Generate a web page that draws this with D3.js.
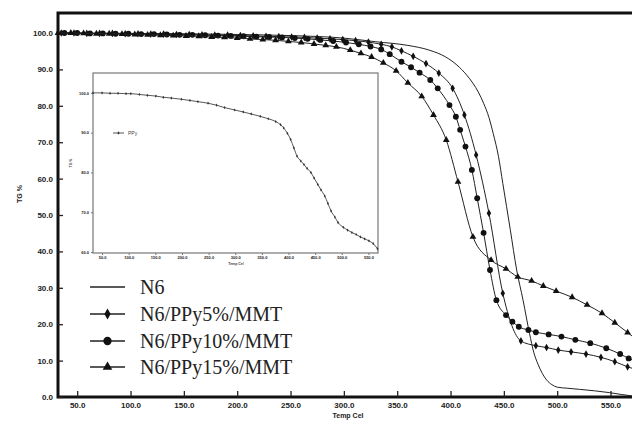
<!DOCTYPE html>
<html>
<head>
<meta charset="utf-8">
<script src="https://cdn.jsdelivr.net/npm/d3@7"></script>
<style>
  body { margin: 0; background: #fff; }
  svg { display: block; }
  .tick text { font-family: "Liberation Sans", Arial, sans-serif; font-weight: bold; fill: #222; }
</style>
</head>
<body>
<div id="chart"></div>
<script>
var svgWidth = 632;
var svgHeight = 422;

// main chart data (TG % vs temperature, Cel)
var n6Temp = [32, 100, 150, 200, 250, 300, 330, 360, 380, 395, 406, 415, 421, 426, 431, 436, 440, 445, 449, 456, 462, 468, 474, 478, 482, 486, 490, 495, 500, 510, 521, 535, 549, 560, 570, 580];
var n6Val  = [100, 99.9, 99.8, 99.6, 99.3, 98.6, 97.6, 96.6, 95.3, 93.5, 91.2, 88.5, 86.2, 83.8, 80.7, 76.8, 72.4, 66.0, 58.7, 46.0, 34.9, 26.6, 17.5, 12.3, 9.0, 6.5, 4.7, 3.4, 2.7, 2.4, 2.1, 1.7, 1.2, 0.7, 0.3, 0.1];

var p5Temp = [35, 47, 59, 71, 83, 95, 107, 119, 131, 143, 155, 167, 179, 191, 203, 215, 227, 239, 251, 263, 275, 287, 299, 311, 323, 335, 345, 354, 365, 377, 389, 402, 413, 424, 436, 449, 466, 480, 490, 501, 513, 527, 541, 554, 566, 578];
var p5Val  = [100, 100, 99.9, 99.9, 99.9, 99.8, 99.8, 99.7, 99.7, 99.6, 99.6, 99.5, 99.4, 99.4, 99.3, 99.2, 99.1, 99.0, 98.9, 98.8, 98.6, 98.4, 98.2, 97.9, 97.5, 96.9, 96.2, 95.1, 93.6, 91.6, 89.0, 84.8, 77.5, 66.5, 50.5, 28.5, 15.4, 14.1, 13.6, 12.9, 12.4, 11.8, 10.9, 9.7, 8.3, 7.2];

var p10Temp = [38, 50, 62, 74, 86, 98, 110, 122, 134, 146, 158, 170, 182, 194, 206, 218, 230, 242, 254, 266, 278, 290, 302, 314, 325, 335, 343, 354, 363, 371, 381, 388, 399, 405, 409, 414, 420, 425, 431, 437, 443, 452, 458, 464, 473, 480, 492, 504, 517, 531, 546, 559, 567, 578];
var p10Val  = [100, 100, 99.9, 99.9, 99.8, 99.8, 99.7, 99.7, 99.6, 99.5, 99.5, 99.4, 99.3, 99.2, 99.1, 99.0, 98.9, 98.8, 98.6, 98.4, 98.1, 97.8, 97.4, 96.9, 96.3, 95.5, 94.2, 92.1, 90.6, 89.1, 87.1, 84.8, 80.2, 77.0, 73.4, 68.8, 62.4, 54.6, 45.1, 34.9, 26.6, 22.5, 20.7, 19.3, 18.4, 17.8, 17.2, 16.6, 15.7, 14.8, 13.4, 11.8, 10.6, 9.3];

var p15Temp = [32, 44, 56, 68, 80, 92, 104, 116, 128, 140, 152, 164, 176, 188, 200, 212, 224, 236, 248, 260, 272, 283, 293, 306, 316, 326, 337, 349, 360, 373, 384, 396, 407, 421, 438, 452, 463, 476, 487, 499, 514, 528, 542, 554, 566, 578];
var p15Val  = [100, 100, 99.9, 99.8, 99.8, 99.7, 99.6, 99.5, 99.4, 99.3, 99.2, 99.1, 98.9, 98.8, 98.6, 98.4, 98.2, 98.0, 97.7, 97.4, 97.0, 96.6, 96.2, 95.3, 94.4, 93.4, 91.8, 89.6, 86.3, 82.6, 77.5, 70.6, 59.1, 44.0, 37.6, 35.2, 33.0, 31.9, 30.5, 29.1, 27.4, 25.3, 23.0, 20.4, 17.7, 15.0];

var seriesNames = ["N6", "N6/PPy5%/MMT", "N6/PPy10%/MMT", "N6/PPy15%/MMT"];
var xTicks = [50, 100, 150, 200, 250, 300, 350, 400, 450, 500, 550];
var yTicks = [0, 10, 20, 30, 40, 50, 60, 70, 80, 90, 100];

// inset data (PPy)
var ppyTemp = [33, 50, 65, 80, 95, 104, 120, 135, 151, 165, 180, 199, 215, 230, 249, 265, 280, 299, 315, 330, 347, 362, 376, 385, 391, 398, 404, 410, 416, 423, 429, 435, 442, 448, 455, 461, 468, 474, 480, 487, 493, 503, 511, 519, 527, 535, 543, 551, 559, 567];
var ppyVal  = [100, 100, 99.9, 99.9, 99.8, 99.8, 99.6, 99.4, 99.2, 98.9, 98.7, 98.4, 98.1, 97.8, 97.4, 96.9, 96.3, 95.7, 95.2, 94.7, 94.1, 93.5, 92.8, 92.0, 91.2, 89.8, 88.3, 86.2, 84.1, 82.9, 82.0, 81.0, 80.0, 78.6, 77.0, 75.6, 74.1, 72.2, 70.3, 68.8, 67.4, 66.2, 65.5, 64.9, 64.4, 63.8, 63.3, 62.8, 62.1, 60.8];
var insetYTicks = [60, 70, 80, 90, 100];

var svg = d3.select("#chart")
    .append("svg")
    .attr("width", svgWidth)
    .attr("height", svgHeight);

var xScale = d3.scaleLinear().domain([32, 572]).range([58, 634]);
var yScale = d3.scaleLinear().domain([0, 105.5]).range([397, 13]);

function zip(t, v) {
    return t.map((d, i) => ({t: d, v: v[i]}));
}

var series = [
    {name: seriesNames[0], data: zip(n6Temp, n6Val), sym: null, size: 0},
    {name: seriesNames[1], data: zip(p5Temp, p5Val), sym: d3.symbolDiamond, size: 17},
    {name: seriesNames[2], data: zip(p10Temp, p10Val), sym: d3.symbolCircle, size: 27},
    {name: seriesNames[3], data: zip(p15Temp, p15Val), sym: d3.symbolTriangle, size: 20}
];

var line = d3.line()
    .x(d => xScale(d.t))
    .y(d => yScale(d.v))
    .curve(d3.curveMonotoneX);

// frame
svg.append("rect")
    .attr("x", 58).attr("y", 13)
    .attr("width", 576).attr("height", 384)
    .attr("fill", "none")
    .attr("stroke", "#111")
    .attr("stroke-width", 3);

// axes
var bottomAxis = d3.axisBottom(xScale)
    .tickValues(xTicks)
    .tickFormat(d3.format(".1f"))
    .tickSizeInner(-6).tickSizeOuter(0).tickPadding(5);

var leftAxis = d3.axisLeft(yScale)
    .tickValues(yTicks)
    .tickFormat(d3.format(".1f"))
    .tickSizeInner(-5).tickSizeOuter(0).tickPadding(5);

var gx = svg.append("g")
    .attr("transform", "translate(0, 397)")
    .call(bottomAxis);
gx.select(".domain").remove();
gx.selectAll(".tick line").attr("stroke", "#222").attr("stroke-width", 1.3);
gx.selectAll(".tick text").attr("font-size", 8);

var gy = svg.append("g")
    .attr("transform", "translate(58, 0)")
    .call(leftAxis);
gy.select(".domain").remove();
gy.selectAll(".tick line").attr("stroke", "#222").attr("stroke-width", 1.3);
gy.selectAll(".tick text").attr("font-size", 8);

svg.append("text")
    .attr("x", 348).attr("y", 418)
    .attr("text-anchor", "middle")
    .attr("font-family", "Liberation Sans, Arial, sans-serif")
    .attr("font-weight", "bold")
    .attr("font-size", 7)
    .attr("fill", "#222")
    .text("Temp Cel");

svg.append("text")
    .attr("transform", "translate(22, 194) rotate(-90)")
    .attr("text-anchor", "middle")
    .attr("font-family", "Liberation Sans, Arial, sans-serif")
    .attr("font-weight", "bold")
    .attr("font-size", 7)
    .attr("fill", "#222")
    .text("TG %");

// inset
var ix = d3.scaleLinear().domain([33, 568]).range([93, 378]);
var iy = d3.scaleLinear().domain([59.75, 105]).range([253, 73]);

var inset = svg.append("g");
inset.append("rect")
    .attr("x", 93).attr("y", 73)
    .attr("width", 285).attr("height", 180)
    .attr("fill", "#fff")
    .attr("stroke", "#777")
    .attr("stroke-width", 1.2);

var ixAxis = inset.append("g")
    .attr("transform", "translate(0, 253)")
    .call(d3.axisBottom(ix).tickValues(xTicks).tickFormat(d3.format(".1f")).tickSizeInner(2).tickSizeOuter(0).tickPadding(1.5));
ixAxis.select(".domain").remove();
ixAxis.selectAll(".tick line").attr("stroke", "#777");
ixAxis.selectAll(".tick text").attr("font-size", 4).attr("fill", "#444");

var iyAxis = inset.append("g")
    .attr("transform", "translate(93, 0)")
    .call(d3.axisLeft(iy).tickValues(insetYTicks).tickFormat(d3.format(".1f")).tickSizeInner(2).tickSizeOuter(0).tickPadding(2));
iyAxis.select(".domain").remove();
iyAxis.selectAll(".tick line").attr("stroke", "#777");
iyAxis.selectAll(".tick text").attr("font-size", 4).attr("fill", "#444");

inset.append("text")
    .attr("x", 236).attr("y", 265)
    .attr("text-anchor", "middle")
    .attr("font-family", "Liberation Sans, Arial, sans-serif")
    .attr("font-weight", "bold")
    .attr("font-size", 3.5)
    .attr("fill", "#444")
    .text("Temp Cel");

inset.append("text")
    .attr("transform", "translate(72, 163) rotate(-90)")
    .attr("text-anchor", "middle")
    .attr("font-family", "Liberation Sans, Arial, sans-serif")
    .attr("font-weight", "bold")
    .attr("font-size", 3.5)
    .attr("fill", "#444")
    .text("TG %");

var ppyData = zip(ppyTemp, ppyVal);
var iline = d3.line()
    .x(d => ix(d.t))
    .y(d => iy(d.v))
    .curve(d3.curveMonotoneX);

inset.append("path")
    .datum(ppyData)
    .attr("d", iline)
    .attr("fill", "none")
    .attr("stroke", "#444")
    .attr("stroke-width", 0.9);

inset.selectAll("path.ppym")
    .data(ppyData)
    .enter()
    .append("path")
    .attr("class", "ppym")
    .attr("transform", d => `translate(${ix(d.t)}, ${iy(d.v)})`)
    .attr("d", d3.symbol().type(d3.symbolDiamond).size(3))
    .attr("fill", "#333");

inset.append("line")
    .attr("x1", 113).attr("x2", 124).attr("y1", 133).attr("y2", 133)
    .attr("stroke", "#444").attr("stroke-width", 0.9);
inset.append("path")
    .attr("transform", "translate(118.5, 133)")
    .attr("d", d3.symbol().type(d3.symbolDiamond).size(4))
    .attr("fill", "#333");
inset.append("text")
    .attr("x", 128).attr("y", 134.8)
    .attr("font-family", "Liberation Sans, Arial, sans-serif")
    .attr("font-size", 5)
    .attr("fill", "#444")
    .text("PPy");

// main curves
var curves = svg.append("g");
series.forEach(function(s) {
    curves.append("path")
        .datum(s.data)
        .attr("d", line)
        .attr("fill", "none")
        .attr("stroke", "#222")
        .attr("stroke-width", 1);
    if (s.sym) {
        curves.selectAll(null)
            .data(s.data)
            .enter()
            .append("path")
            .attr("transform", d => `translate(${xScale(d.t)}, ${yScale(d.v)})`)
            .attr("d", d3.symbol().type(s.sym).size(s.size))
            .attr("fill", "#111");
    }
});

// legend
var legendY = [287, 314, 341, 367];
var legend = svg.append("g");
series.forEach(function(s, i) {
    legend.append("line")
        .attr("x1", 90).attr("x2", 125)
        .attr("y1", legendY[i]).attr("y2", legendY[i])
        .attr("stroke", "#222").attr("stroke-width", 1.3);
    if (s.sym) {
        legend.append("path")
            .attr("transform", `translate(107.5, ${legendY[i]})`)
            .attr("d", d3.symbol().type(s.sym).size(s.size * 2))
            .attr("fill", "#111");
    }
    legend.append("text")
        .attr("x", 140).attr("y", legendY[i] + 6.5)
        .attr("font-family", "Liberation Serif, Times New Roman, serif")
        .attr("font-size", 20)
        .attr("fill", "#222")
        .text(s.name);
});
</script>
</body>
</html>
